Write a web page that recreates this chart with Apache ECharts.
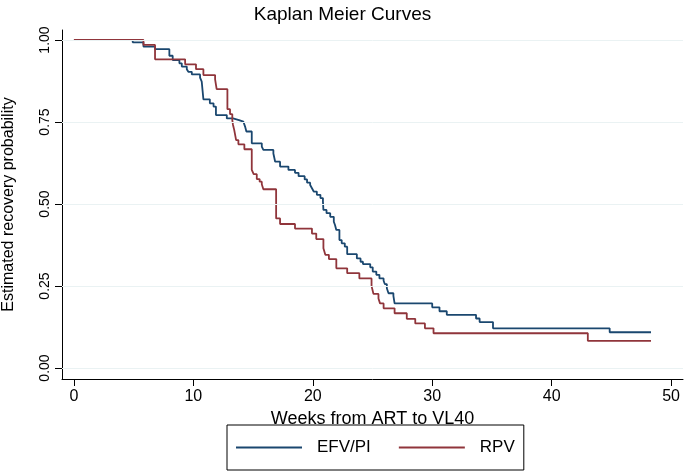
<!DOCTYPE html>
<html><head><meta charset="utf-8">
<script src="https://cdn.jsdelivr.net/npm/echarts@6/dist/echarts.min.js"></script>
<style>html,body{margin:0;padding:0;background:#fff}#c{width:685px;height:474px}</style>
</head><body><div id="c"></div>
<script>
const efvTimes = [0, 4.92, 5.82, 6.79, 7.99, 8.27, 8.83, 9.03, 9.45, 9.58, 9.87, 10.56, 10.70, 10.84, 11.38, 11.69, 11.89, 12.80, 13.32, 13.82, 14.19, 14.33, 14.44, 14.89, 15.73, 15.86, 16.70, 16.85, 17.26, 17.96, 18.51, 18.81, 19.32, 19.52, 19.78, 19.93, 20.08, 20.34, 20.64, 20.85, 20.89, 21.15, 21.46, 21.76, 21.86, 21.97, 22.23, 22.42, 22.68, 22.88, 23.69, 24.00, 24.20, 24.81, 25.02, 25.32, 25.58, 25.93, 26.03, 26.20, 26.34, 26.75, 26.85, 30.00, 30.61, 31.22, 33.67, 33.97, 35.09, 44.86, 48.32];
const efvSurv = [1.0, 0.993, 0.980, 0.972, 0.952, 0.939, 0.929, 0.919, 0.911, 0.903, 0.895, 0.885, 0.873, 0.819, 0.807, 0.797, 0.771, 0.761, 0.756, 0.751, 0.746, 0.736, 0.721, 0.685, 0.675, 0.665, 0.654, 0.629, 0.614, 0.604, 0.595, 0.585, 0.575, 0.565, 0.558, 0.548, 0.538, 0.528, 0.518, 0.507, 0.482, 0.472, 0.461, 0.446, 0.436, 0.421, 0.390, 0.380, 0.370, 0.347, 0.334, 0.324, 0.317, 0.307, 0.294, 0.284, 0.273, 0.266, 0.256, 0.243, 0.228, 0.220, 0.197, 0.185, 0.173, 0.162, 0.151, 0.140, 0.121, 0.109, 0.109];
const rpvTimes = [0, 5.82, 6.79, 9.31, 10.22, 10.84, 11.82, 11.95, 12.85, 13.07, 13.26, 13.32, 13.42, 13.58, 13.77, 14.27, 14.89, 15.05, 15.31, 15.55, 15.73, 15.86, 16.93, 17.26, 18.51, 19.93, 20.29, 20.89, 21.05, 21.35, 21.97, 22.88, 23.90, 24.92, 25.08, 25.50, 25.63, 25.93, 26.85, 27.87, 28.58, 29.39, 30.11, 43.03, 48.32];
const rpvSurv = [1.0, 0.985, 0.941, 0.926, 0.911, 0.893, 0.880, 0.850, 0.789, 0.774, 0.756, 0.741, 0.726, 0.695, 0.682, 0.667, 0.604, 0.591, 0.576, 0.568, 0.560, 0.545, 0.456, 0.439, 0.425, 0.410, 0.393, 0.365, 0.345, 0.332, 0.304, 0.289, 0.273, 0.250, 0.226, 0.212, 0.197, 0.182, 0.167, 0.150, 0.136, 0.121, 0.106, 0.083, 0.083];
const xTicks = [0, 10, 20, 30, 40, 50];
const yTicks = [0, 0.25, 0.5, 0.75, 1.0];
const seriesNames = ['EFV/PI', 'RPV'];

const pairs = (t, s) => t.map((v, i) => [v, s[i]]);
const chart = echarts.init(document.getElementById('c'), null, {renderer: 'canvas'});
const font = 'Liberation Sans, Arial, sans-serif';
chart.setOption({
  animation: false,
  backgroundColor: '#ffffff',
  title: {
    text: 'Kaplan Meier Curves', left: 'center', top: 0,
    textStyle: {fontFamily: font, fontSize: 19, fontWeight: 'normal', color: '#000'}
  },
  grid: {left: 62, right: 2, top: 30, bottom: 95, containLabel: false, outerBoundsMode: 'none'},
  legend: {
    data: seriesNames, left: 227, top: 425, orient: 'horizontal',
    itemWidth: 66, itemHeight: 2, itemGap: 28, icon: 'rect',
    padding: [14, 9, 14, 9],
    borderColor: '#000', borderWidth: 1, borderRadius: 0,
    textStyle: {fontFamily: font, fontSize: 17, color: '#000', padding: [0, 0, 0, 10]}
  },
  xAxis: {
    type: 'value', min: -1, max: 51,
    name: 'Weeks from ART to VL40', nameLocation: 'middle', nameGap: 24,
    nameTextStyle: {fontFamily: font, fontSize: 18, color: '#000'},
    axisLine: {show: true, onZero: false, lineStyle: {color: '#000', width: 1}},
    axisTick: {show: true, length: 7, customValues: xTicks, lineStyle: {color: '#000'}},
    axisLabel: {customValues: xTicks, fontFamily: font, fontSize: 16, color: '#000', margin: 10},
    splitLine: {show: false}
  },
  yAxis: {
    type: 'value', min: -0.0335, max: 1.0305,
    name: 'Estimated recovery probability', nameLocation: 'middle', nameGap: 45,
    nameTextStyle: {fontFamily: font, fontSize: 16, color: '#000'},
    axisLine: {show: true, onZero: false, lineStyle: {color: '#000', width: 1}},
    axisTick: {show: true, length: 7, customValues: yTicks, lineStyle: {color: '#000'}},
    axisLabel: {customValues: yTicks, rotate: 90, fontFamily: font, fontSize: 14, color: '#000', margin: 10,
      formatter: v => v.toFixed(2)},
    splitLine: {show: false}
  },
  series: [
    {
      name: '_grid', type: 'line', data: [], silent: true, z: 1,
      markLine: {
        silent: true, symbol: 'none', label: {show: false},
        lineStyle: {color: '#eaf2f3', width: 1, type: 'solid'},
        data: yTicks.map(v => ({yAxis: v}))
      }
    },
    {
      name: seriesNames[0], type: 'line', step: 'end', symbol: 'none', z: 3,
      data: pairs(efvTimes, efvSurv),
      itemStyle: {color: '#1a476f'}, lineStyle: {color: '#1a476f', width: 1.8}
    },
    {
      name: seriesNames[1], type: 'line', step: 'end', symbol: 'none', z: 4,
      data: pairs(rpvTimes, rpvSurv),
      itemStyle: {color: '#90353b'}, lineStyle: {color: '#90353b', width: 1.8}
    }
  ]
});
</script></body></html>
